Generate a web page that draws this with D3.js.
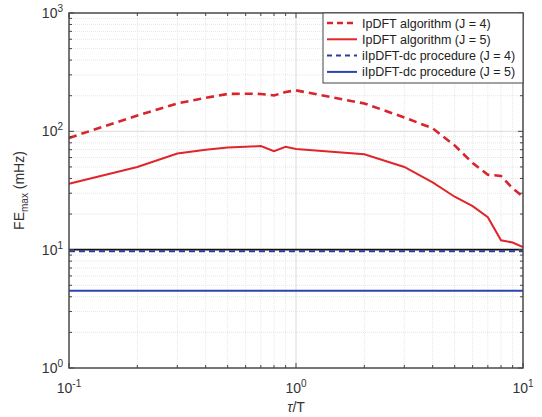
<!DOCTYPE html>
<html><head><meta charset="utf-8">
<script src="https://cdn.jsdelivr.net/npm/d3@7"></script>
<style>body{margin:0;background:#fff}svg{display:block}text{font-family:"Liberation Sans",Arial,sans-serif}</style>
</head><body><svg id="c" width="542" height="417"></svg>
<script>
const tau = [0.1,0.2,0.3,0.4,0.5,0.6,0.7,0.8,0.9,1,2,3,4,5,6,7,8,9,10];
const ipdftJ4 = [88,136,172,192,207,208,207,201,215,222,172,131,106,76,54,43,42,33,28];
const ipdftJ5 = [36,50,65,70,73,74,75,68,74,71,64,50,37,28,23.3,18.8,12,11.5,10.5];
const ilpdftJ4 = tau.map(()=>9.7);
const ilpdftJ5 = tau.map(()=>4.5);
const limitLine = [10,10];
const limitX = [0.1,10];
const legendLabels = ["IpDFT algorithm (J = 4)","IpDFT algorithm (J = 5)","iIpDFT-dc procedure (J = 4)","iIpDFT-dc procedure (J = 5)"];
const xTickExp = [-1,0,1];
const yTickExp = [0,1,2,3];

const svg = d3.select("#c");
const L=69,R=523,T=13,B=368;
const x = d3.scaleLog().domain([0.1,10]).range([L,R]);
const y = d3.scaleLog().domain([1,1000]).range([B,T]);

// minor grid
const minorX=[], minorY=[];
[0.1,1].forEach(d=>{for(let k=2;k<=9;k++)minorX.push(d*k);});
[1,10,100].forEach(d=>{for(let k=2;k<=9;k++)minorY.push(d*k);});
const g = svg.append("g");
g.selectAll(".mx").data(minorX).join("line").attr("x1",d=>x(d)).attr("x2",d=>x(d)).attr("y1",T).attr("y2",B)
 .attr("stroke","#e6e6e6").attr("stroke-width",1).attr("stroke-dasharray","1,1");
g.selectAll(".my").data(minorY).join("line").attr("y1",d=>y(d)).attr("y2",d=>y(d)).attr("x1",L).attr("x2",R)
 .attr("stroke","#e6e6e6").attr("stroke-width",1).attr("stroke-dasharray","1,1");
g.selectAll(".Mx").data(xTickExp).join("line").attr("x1",d=>x(10**d)).attr("x2",d=>x(10**d)).attr("y1",T).attr("y2",B)
 .attr("stroke","#dadada").attr("stroke-width",1);
g.selectAll(".My").data(yTickExp).join("line").attr("y1",d=>y(10**d)).attr("y2",d=>y(10**d)).attr("x1",L).attr("x2",R)
 .attr("stroke","#dadada").attr("stroke-width",1);

// lines
const line = d3.line().x((d,i)=>x(tau[i])).y(d=>y(d));
const pl = svg.append("g");
pl.append("path").datum(limitLine).attr("d",d3.line().x((d,i)=>x(limitX[i])).y(d=>y(d))).attr("fill","none").attr("stroke","#111").attr("stroke-width",1.6);
pl.append("path").datum(ilpdftJ4).attr("d",line).attr("fill","none").attr("stroke","#2a3d9a").attr("stroke-width",2).attr("stroke-dasharray","6,4");
pl.append("path").datum(ilpdftJ5).attr("d",line).attr("fill","none").attr("stroke","#2a45b0").attr("stroke-width",2);
pl.append("path").datum(ipdftJ4).attr("d",line).attr("fill","none").attr("stroke","#d8252c").attr("stroke-width",2.6).attr("stroke-dasharray","8,5");
pl.append("path").datum(ipdftJ5).attr("d",line).attr("fill","none").attr("stroke","#e0262b").attr("stroke-width",2);

// axes box
const ax = svg.append("g");
ax.append("rect").attr("x",L).attr("y",T).attr("width",R-L).attr("height",B-T).attr("fill","none").attr("stroke","#444").attr("stroke-width",1.4);
const xt = minorX.concat(xTickExp.map(e=>10**e));
const yt = minorY.concat(yTickExp.map(e=>10**e));
xt.forEach(v=>{const len = Math.abs(Math.log10(v)-Math.round(Math.log10(v)))<1e-9?5:3;
  ax.append("line").attr("x1",x(v)).attr("x2",x(v)).attr("y1",B).attr("y2",B-len).attr("stroke","#444");
  ax.append("line").attr("x1",x(v)).attr("x2",x(v)).attr("y1",T).attr("y2",T+len).attr("stroke","#444");});
yt.forEach(v=>{const len = Math.abs(Math.log10(v)-Math.round(Math.log10(v)))<1e-9?5:3;
  ax.append("line").attr("y1",y(v)).attr("y2",y(v)).attr("x1",L).attr("x2",L+len).attr("stroke","#444");
  ax.append("line").attr("y1",y(v)).attr("y2",y(v)).attr("x1",R).attr("x2",R-len).attr("stroke","#444");});

// tick labels
yTickExp.forEach(e=>{
  const t = ax.append("text").attr("x",L-6).attr("y",y(10**e)+5).attr("text-anchor","end").attr("font-size",14).attr("fill","#333");
  t.append("tspan").text("10");
  t.append("tspan").attr("dy",-6).attr("font-size",10).text(e);
});
xTickExp.forEach(e=>{
  const t = ax.append("text").attr("x",x(10**e)).attr("y",B+25).attr("text-anchor","middle").attr("font-size",14).attr("fill","#333");
  t.append("tspan").text("10");
  t.append("tspan").attr("dy",-6).attr("font-size",10).text(e);
});
svg.append("text").attr("x",(L+R)/2).attr("y",412).attr("text-anchor","middle").attr("font-size",14).attr("fill","#333")
  .html('<tspan font-style="italic">τ</tspan>/T');
const yl = svg.append("text").attr("transform",`translate(24,${(T+B)/2}) rotate(-90)`).attr("text-anchor","middle").attr("font-size",14).attr("fill","#333");
yl.append("tspan").text("FE");
yl.append("tspan").attr("dy",4).attr("font-size",10).text("max");
yl.append("tspan").attr("dy",-4).text(" (mHz)");

// legend
const lg = svg.append("g");
lg.append("rect").attr("x",323).attr("y",T).attr("width",R-323).attr("height",70).attr("fill","#fff").attr("stroke","#444").attr("stroke-width",1);
const styles=[{c:"#d8252c",d:"6,4",w:2.6},{c:"#e0262b",d:null,w:2},{c:"#2a3d9a",d:"5,4",w:2},{c:"#2a45b0",d:null,w:2}];
legendLabels.forEach((s,i)=>{
  const yy = 23+i*16.3;
  lg.append("line").attr("x1",327).attr("x2",357).attr("y1",yy).attr("y2",yy).attr("stroke",styles[i].c).attr("stroke-width",styles[i].w).attr("stroke-dasharray",styles[i].d);
  lg.append("text").attr("x",362).attr("y",yy+4.5).attr("font-size",12.5).attr("fill","#222").text(s);
});
</script></body></html>
